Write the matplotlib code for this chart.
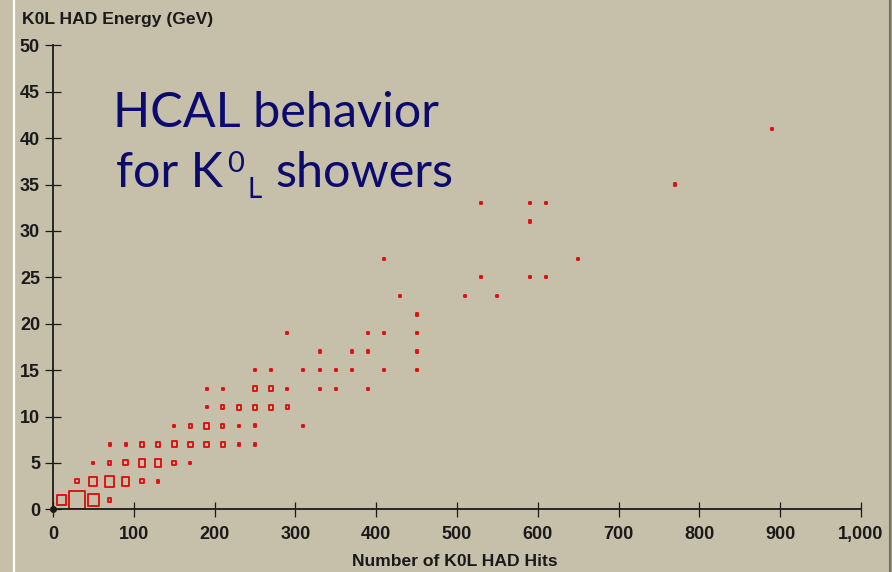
import matplotlib
matplotlib.use("Agg")
import matplotlib.pyplot as plt
from matplotlib.patches import Rectangle
from matplotlib.collections import PatchCollection
from matplotlib.lines import Line2D
from matplotlib.ticker import FuncFormatter
import numpy as np

# Binned K0L showers: bin centres (hits, energy) and entry counts per bin
hits = [10, 30, 50, 70,
        30, 50, 70, 90, 110, 130,
        50, 70, 90, 110, 130, 150, 170,
        70, 90, 110, 130, 150, 170, 190, 210, 230, 250,
        150, 170, 190, 210, 230, 250, 310,
        190, 210, 230, 250, 270, 290,
        190, 210, 250, 270, 290, 330, 350, 390,
        250, 270, 310, 330, 350, 370, 410, 450,
        330, 370, 390, 450,
        290, 390, 410, 450,
        450,
        430, 510, 550,
        530, 590, 610,
        410, 650,
        590,
        530, 590, 610,
        770,
        890]
energy = [1, 1, 1, 1,
          3, 3, 3, 3, 3, 3,
          5, 5, 5, 5, 5, 5, 5,
          7, 7, 7, 7, 7, 7, 7, 7, 7, 7,
          9, 9, 9, 9, 9, 9, 9,
          11, 11, 11, 11, 11, 11,
          13, 13, 13, 13, 13, 13, 13, 13,
          15, 15, 15, 15, 15, 15, 15, 15,
          17, 17, 17, 17,
          19, 19, 19, 19,
          21,
          23, 23, 23,
          25, 25, 25,
          27, 27,
          31,
          33, 33, 33,
          35,
          41]
counts = [20, 64, 30, 3,
          3, 15, 23, 14, 3, 1,
          1, 3, 5, 11, 11, 4, 1,
          1, 1, 4, 5, 7, 5, 5, 4, 1, 1,
          1, 3, 7, 3, 1, 2, 1,
          1, 3, 4, 4, 4, 3,
          1, 1, 4, 4, 1, 1, 1, 1,
          1, 1, 1, 1, 1, 1, 1, 1,
          1, 1, 1, 1,
          1, 1, 1, 1,
          1,
          1, 1, 1,
          1, 1, 1,
          1, 1,
          1,
          1, 1, 1,
          1,
          1]

x_ticks = [0, 100, 200, 300, 400, 500, 600, 700, 800, 900, 1000]
y_ticks = [0, 5, 10, 15, 20, 25, 30, 35, 40, 45, 50]
bin_w, bin_h = 20.0, 2.0

bg = "#C6BFA9"
ink = "#1A1A1A"
red = "#DD0E0E"
navy = "#0B0B6E"
ui_font = "Liberation Sans"

W, H = 892, 572
fig = plt.figure(figsize=(W / 100, H / 100), dpi=100, facecolor=bg)
ax = fig.add_axes([53 / W, (H - 509.3) / H, 808 / W, 464 / H], facecolor=bg)

# Boxes sized by sqrt(count / max count) of the bin
frac = np.sqrt(np.asarray(counts, float) / max(counts))
boxes = [Rectangle((x - bin_w * f / 2, y - bin_h * f / 2), bin_w * f, bin_h * f)
         for x, y, f in zip(hits, energy, frac)]
ax.add_collection(PatchCollection(boxes, facecolor="none", edgecolor=red,
                                  linewidth=1.35))

ax.set_xlim(0, 1000)
ax.set_ylim(0, 50)
ax.set_xticks(x_ticks)
ax.set_yticks(y_ticks)
ax.xaxis.set_major_formatter(FuncFormatter(lambda v, p: f"{int(v):,}"))

for s in ("top", "right"):
    ax.spines[s].set_visible(False)
for s in ("left", "bottom"):
    ax.spines[s].set_color(ink)
    ax.spines[s].set_linewidth(1.3)

ax.tick_params(axis="y", direction="inout", length=11.5, width=0.9,
               color=ink, labelcolor=ink, pad=3.6, labelsize=13)
ax.tick_params(axis="x", direction="inout", length=10.8, width=0.9,
               color=ink, labelcolor=ink, pad=6.3, labelsize=13)
for lab in ax.get_xticklabels() + ax.get_yticklabels():
    lab.set_fontweight("bold")
    lab.set_family(ui_font)

ax.plot([0], [0], "o", ms=4, color=ink, clip_on=False, zorder=5)

ax.set_xlabel("Number of K0L HAD Hits", fontsize=12.6, fontweight="bold",
              family=ui_font, color=ink, va="baseline")
ax.xaxis.set_label_coords((454.5 - 53) / 808, -(566.5 - 509.3) / 464)
fig.text(22 / W, 1 - 24.3 / H, "K0L HAD Energy (GeV)", fontsize=12.6,
         fontweight="bold", family=ui_font, color=ink,
         ha="left", va="baseline")

# Annotation: two lines, the second with staggered K0_L scripts
note = dict(family="Lato", color=navy, va="baseline", ha="left")
ax.text(74, 41.23, "HCAL behavior", fontsize=35, **note)
y2 = 34.7
t_for = ax.text(78, y2, "for K", fontsize=35, **note)
t_sup = ax.annotate("0", xy=(1, y2), xycoords=(t_for, "data"),
                    xytext=(3.0, 11.0), textcoords="offset points",
                    fontsize=21, **note)
t_sub = ax.annotate("L", xy=(1, y2), xycoords=(t_sup, "data"),
                    xytext=(2.7, -7.9), textcoords="offset points",
                    fontsize=20, **note)
ax.annotate("showers", xy=(1, y2), xycoords=(t_sub, "data"),
            xytext=(9.4, 0), textcoords="offset points",
            fontsize=35, **note)

# Window frame edges
fig.add_artist(Line2D([13.5 / W] * 2, [0, 1], color="white", lw=1.6))
fig.add_artist(Line2D([889.5 / W] * 2, [0, 1], color="#6E705E", lw=2.2))
fig.add_artist(Line2D([891.3 / W] * 2, [0, 1], color="#9A9A88", lw=1.0))

fig.savefig("out.png", dpi=100, facecolor=bg)
